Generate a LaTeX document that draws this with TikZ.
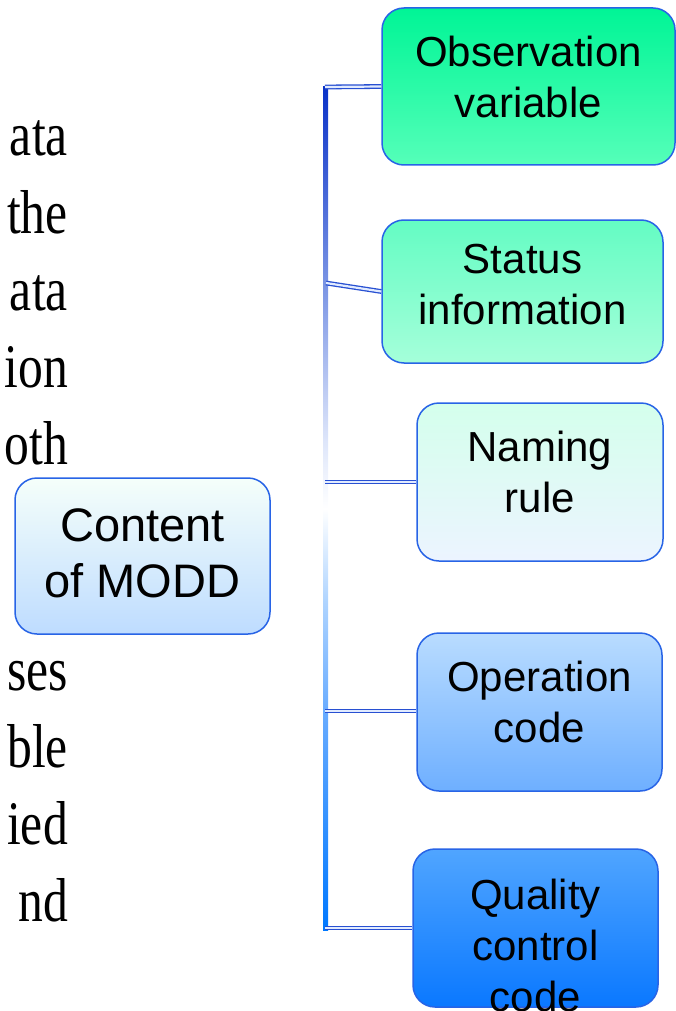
\documentclass[tikz,border=0pt]{standalone}
\usepackage{fontspec}
\setmainfont{Liberation Sans}
\newfontfamily\slideserif[FakeStretch=0.8]{Liberation Serif}
\usetikzlibrary{calc}

\definecolor{boxline}{RGB}{40,100,230}
\definecolor{tubedark}{RGB}{40,80,210}
\definecolor{tubelight}{RGB}{225,235,255}
\definecolor{bartop}{RGB}{10,50,200}
\definecolor{barmid}{RGB}{130,155,230}
\definecolor{barmist}{RGB}{222,230,250}
\definecolor{barpale}{RGB}{175,212,255}
\definecolor{barlow}{RGB}{105,172,255}
\definecolor{barbot}{RGB}{0,120,255}

% bar fading from dark blue through white to bright blue
\pgfdeclareverticalshading{barshade}{100bp}{color(0bp)=(barbot); color(25bp)=(barbot);
	color(38bp)=(barlow); color(44.5bp)=(barpale); color(50bp)=(white); color(54bp)=(barmist);
	color(62.5bp)=(barmid); color(75bp)=(bartop); color(100bp)=(bartop)}

\tikzset{
	box/.style={draw=boxline, line width=1.5pt, rounded corners=22pt, align=center,
		inner sep=0pt, font=\fontsize{42}{51}\selectfont, text depth=20pt},
	branch/.style={draw=tubedark, double=tubelight, double distance=2.2pt, line width=1.3pt},
	slidetext/.style={anchor=base east, inner sep=0pt, font=\slideserif\fontsize{62}{77}\selectfont},
}

\begin{document}
\begin{tikzpicture}[x=1pt, y=-1pt]
	\useasboundingbox (0,0) rectangle (676,1011);
	
	% running text behind the diagram
	\foreach \w/\yy [count=\i] in {ata/156, the/233, ata/310, ion/387, oth/464, ses/690, ble/767, ied/844, nd/921}
		\node[slidetext] (frag\i) at (68,\yy) {\w};
	
	% root box
	\node[box, minimum width=255pt, minimum height=156pt, font=\fontsize{47}{56}\selectfont, text depth=6pt,
		top color={rgb,255:red,245;green,255;blue,250}, middle color=white, bottom color={rgb,255:red,190;green,220;blue,255}]
		(modd) at (142.5,556) {Content\\of MODD};
	
	% children
	\node[box, minimum width=293pt, minimum height=157pt,
		top color={rgb,255:red,0;green,245;blue,150}, bottom color={rgb,255:red,85;green,255;blue,185}]
		(obs) at (528.5,86.5) {Observation\\variable};
	\node[box, minimum width=281pt, minimum height=143pt, text depth=14pt,
		top color={rgb,255:red,100;green,252;blue,195}, bottom color={rgb,255:red,165;green,255;blue,218}]
		(status) at (522.5,291.5) {Status\\information};
	\node[box, minimum width=246pt, minimum height=158pt,
		top color={rgb,255:red,212;green,255;blue,236}, middle color=white, bottom color={rgb,255:red,236;green,244;blue,255}]
		(naming) at (540,482) {Naming\\rule};
	\node[box, minimum width=245pt, minimum height=158pt,
		top color={rgb,255:red,185;green,220;blue,255}, bottom color={rgb,255:red,110;green,175;blue,255}]
		(opcode) at (539.5,712) {Operation\\code};
	\node[box, minimum width=245pt, minimum height=158pt,
		top color={rgb,255:red,80;green,165;blue,255}, bottom color={rgb,255:red,10;green,120;blue,255}]
		(quality) at (535.5,928) {};
	\node[align=center, inner sep=0pt, font=\fontsize{42}{51}\selectfont]
		(qualitytxt) at ($(quality.center)+(0,17)$) {Quality\\control\\code};
	
	% vertical bar
	\shade[shading=barshade] (323,87) rectangle (328,930);
	\coordinate (j1) at (325,87);
	\coordinate (j2) at (326,283);
	\coordinate (j3) at (325,482);
	\coordinate (j4) at (325,711);
	\coordinate (j5) at (325,928);
	
	\draw[branch] (j1) -- (obs.west);
	\draw[branch] (j2) -- (status.west);
	\draw[branch] (j3) -- (naming.west);
	\draw[branch] (j4) -- (opcode.west |- j4);
	\draw[branch] (j5) -- (quality.west);
\end{tikzpicture}
\end{document}
